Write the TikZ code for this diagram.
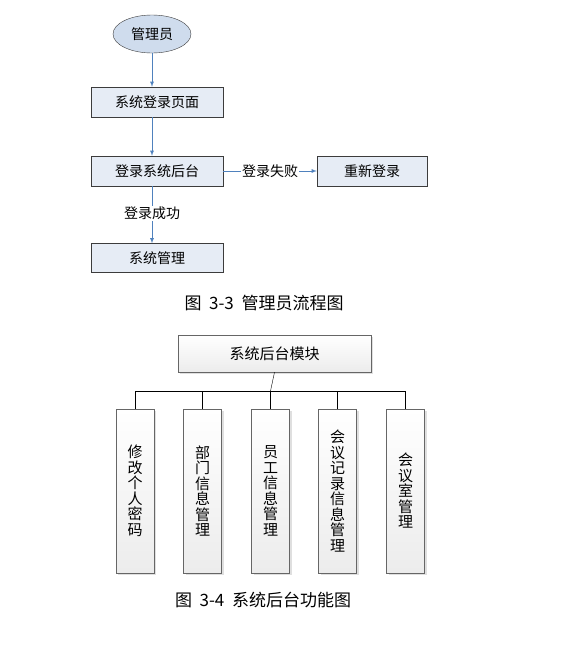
\documentclass[tikz,border=0pt]{standalone}
\usepackage{fontspec}
\setmainfont{Noto Sans CJK SC}
\usepackage{tikz}
\usetikzlibrary{shapes.geometric}
\usetikzlibrary{shadows}
\definecolor{flowblue}{RGB}{79,129,189}
\definecolor{boxfill}{RGB}{230,236,245}
\definecolor{edgegray}{RGB}{60,60,60}
\tikzset{
  flowbox/.style={draw=edgegray,fill=boxfill,minimum width=132pt,minimum height=30pt,font=\fontsize{14}{15}\selectfont},
  flowarrow/.style={flowblue,thick,->,>=latex},
  flowlabel/.style={fill=white,text=black,inner sep=1pt,font=\fontsize{14}{15}\selectfont},
  modbox/.style={draw=gray!80!black,top color=white,bottom color=gray!15,
    drop shadow={opacity=0.25,shadow xshift=2pt,shadow yshift=-2pt},
    minimum width=38pt,minimum height=164pt,inner sep=0pt,
    align=center,font=\fontsize{15}{15.5}\selectfont},
  caption/.style={font=\fontsize{17}{19}\selectfont}
}
\begin{document}
\begin{tikzpicture}[x=1pt,y=-1pt]
\useasboundingbox [fill=white] (0,0) rectangle (561,657);
% flow chart
\node [ellipse,draw=edgegray,fill=boxfill!85!flowblue,minimum width=78pt,minimum height=38pt,font=\fontsize{14}{15}\selectfont] (admin) at (152,34) {管理员};
\node [flowbox] (loginpage) at (157,102) {系统登录页面};
\node [flowbox] (backend) at (157,171) {登录系统后台};
\node [flowbox,minimum width=110pt] (relogin) at (372,171) {重新登录};
\node [flowbox,minimum height=29pt] (sysmgr) at (157,258) {系统管理};
\draw [flowarrow] (admin.south) -- (admin.south |- loginpage.north);
\draw [flowarrow] (admin.south |- loginpage.south) -- (admin.south |- backend.north);
\draw [flowarrow] (backend.east) -- node [flowlabel] (fail) {登录失败} (relogin.west);
\draw [flowarrow] (admin.south |- backend.south) -- node [flowlabel,pos=0.48] (success) {登录成功} (admin.south |- sysmgr.north);
\node [caption] (cap1) at (264,303) {图\ \ 3-3\ \ 管理员流程图};
% module chart
\node [modbox,minimum width=193pt,minimum height=37pt,font=\fontsize{15}{16}\selectfont] (top) at (274.5,353.5) {系统后台模块};
\node [modbox] (m1) at (135,491) {修\\改\\个\\人\\密\\码};
\node [modbox] (m2) at (202.5,491) {部\\门\\信\\息\\管\\理};
\node [modbox] (m3) at (270.5,491) {员\\工\\信\\息\\管\\理};
\node [modbox] (m4) at (337.5,491) {会\\议\\记\\录\\信\\息\\管\\理};
\node [modbox] (m5) at (405.5,491) {会\\议\\室\\管\\理};
\coordinate (bus) at (270.5,391);
\draw [thin,black] (top.south) -- (bus);
\draw [thin,black] (m1.north |- bus) -- (m5.north |- bus);
\foreach \m in {m1,m2,m3,m4,m5}
  \draw [thin,black] (\m.north |- bus) -- (\m.north);
\node [caption] (cap2) at (263,600) {图\ \ 3-4\ \ 系统后台功能图};
\end{tikzpicture}
\end{document}
